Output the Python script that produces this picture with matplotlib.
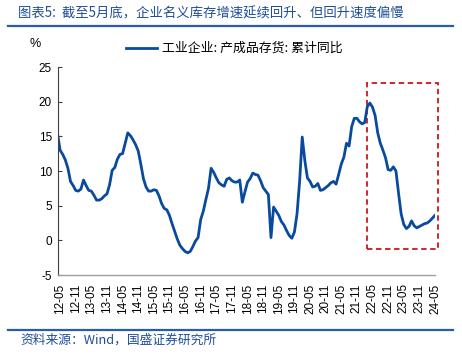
import matplotlib
matplotlib.use('Agg')
import matplotlib.pyplot as plt
from matplotlib.patches import Rectangle
from matplotlib.lines import Line2D
import pandas as pd

CJK = ['Noto Sans CJK SC', 'DejaVu Sans']
plt.rcParams['font.family'] = ['Liberation Sans', 'Noto Sans CJK SC', 'DejaVu Sans']

# ---- data -------------------------------------------------------------
months = pd.period_range('2012-04', '2024-05', freq='M').strftime('%y-%m').tolist()
values = [
    15.4, 13.0, 12.4, 11.6, 10.4, 8.5, 7.9, 7.2, 7.1, 7.4,          # 12-04 .. 13-01
    8.7, 7.9, 7.2, 7.1, 6.5, 5.8, 5.8, 6.0, 6.4, 6.7,              # 13-02 .. 13-11
    8.0, 10.1, 10.5, 11.7, 12.4, 12.5, 14.0, 15.5, 15.1, 14.5,     # 13-12 .. 14-09
    13.8, 12.9, 11.0, 8.9, 7.7, 7.1, 7.1, 7.3, 7.2, 6.4,           # 14-10 .. 15-07
    5.3, 4.6, 4.4, 3.6, 2.4, 1.3, 0.2, -0.7, -1.2, -1.6,           # 15-08 .. 16-05
    -1.8, -1.6, -0.9, -0.1, 0.4, 3.0, 4.2, 5.9, 7.5, 10.4,         # 16-06 .. 17-03
    9.8, 9.0, 8.3, 8.0, 7.8, 8.8, 9.0, 8.6, 8.4, 8.4,              # 17-04 .. 18-01
    8.7, 5.5, 7.0, 8.4, 8.9, 9.7, 9.5, 9.4, 8.6, 7.6,              # 18-02 .. 18-11
    7.1, 6.6, 0.4, 4.8, 4.2, 3.6, 2.7, 2.2, 1.4, 0.7,              # 18-12 .. 19-09
    0.3, 1.2, 3.8, 8.5, 14.9, 11.5, 9.0, 8.5, 7.7, 7.8,            # 19-10 .. 20-07
    8.2, 7.2, 7.3, 7.6, 7.9, 8.3, 8.5, 8.1, 9.5, 11.0,             # 20-08 .. 21-05
    12.0, 14.0, 13.6, 16.4, 17.6, 17.6, 17.1, 16.8, 17.0, 19.3,    # 21-06 .. 22-03
    19.8, 19.2, 18.0, 15.5, 14.0, 13.0, 11.9, 10.2, 10.1, 10.6,    # 22-04 .. 23-01
    10.0, 6.8, 3.8, 2.3, 1.7, 2.0, 2.8, 2.1, 1.8, 2.0,             # 23-02 .. 23-11
    2.2, 2.4, 2.5, 2.8, 3.2, 3.6,                                  # 23-12 .. 24-05
]
tick_labels = ['12-05', '12-11', '13-05', '13-11', '14-05', '14-11', '15-05',
               '15-11', '16-05', '16-11', '17-05', '17-11', '18-05', '18-11',
               '19-05', '19-11', '20-05', '20-11', '21-05', '21-11', '22-05',
               '22-11', '23-05', '23-11', '24-05']
y_ticks = [-5, 0, 5, 10, 15, 20, 25]
series_name = '工业企业: 产成品存货: 累计同比'
title = '图表5:  截至5月底，企业名义库存增速延续回升、但回升速度偏慢'
source = '资料来源：Wind，国盛证券研究所'
box_months = ('22-03', '24-06')
box_values = (-1.2, 22.7)

# ---- figure -----------------------------------------------------------
W, H = 462, 356
fig = plt.figure(figsize=(W / 100, H / 100), dpi=100)
ax = fig.add_axes([57.5 / W, 1 - 275 / H, (435 - 57.5) / W, (275 - 67) / H])

x = list(range(len(values)))
blue = '#0A4A9E'
ax.plot(x, values, color=blue, lw=2.0, solid_joinstyle='round')

ax.set_xlim(0, len(values) - 1)
ax.set_ylim(-5, 25)
ax.set_yticks(y_ticks)
ax.set_yticklabels([str(v) for v in y_ticks])
ax.tick_params(axis='y', direction='in', length=3, width=0.8, color='#404040',
               labelsize=8.5, pad=4)
pos = [months.index(t) for t in tick_labels]
ax.set_xticks(pos)
ax.set_xticklabels(tick_labels, rotation=90, fontsize=8.5)
ax.tick_params(axis='x', length=0, pad=6)

for s in ['top', 'right']:
    ax.spines[s].set_visible(False)
ax.spines['left'].set_color('#404040')
ax.spines['left'].set_linewidth(0.8)
ax.spines['bottom'].set_color('#A0A0A0')
ax.spines['bottom'].set_linewidth(1.0)

# highlight box
bx0 = months.index(box_months[0])
bx1 = len(months) - 1 + 1.2
rect = Rectangle((bx0, box_values[0]), bx1 - bx0, box_values[1] - box_values[0],
                 fill=False, ec='#C8171E', lw=1.3, ls=(0, (3, 2)), clip_on=False)
ax.add_patch(rect)

# title, lines, legend, source
title_c = '#1F4E9A'
fig.text(18 / W, 1 - 13 / H, title, color=title_c, fontsize=9.6, style='italic',
         family=CJK, va='center', ha='left')
fig.add_artist(Line2D([8 / W, 453 / W], [1 - 26 / H] * 2, color='#2A5CAA', lw=1.6))
fig.add_artist(Line2D([8 / W, 453 / W], [1 - 330 / H] * 2, color='#2A5CAA', lw=1.6))
fig.text(20 / W, 1 - 340 / H, source, color=title_c, fontsize=9.2, style='italic',
         family=CJK, va='center', ha='left')
fig.text(30 / W, 1 - 44 / H, '%', fontsize=9, va='center', ha='left')
fig.add_artist(Line2D([126 / W, 157 / W], [1 - 48 / H] * 2, color=blue, lw=2.0))
fig.text(162 / W, 1 - 48 / H, series_name, fontsize=9.3, family=CJK,
         va='center', ha='left')

fig.savefig('out.png', dpi=100)
